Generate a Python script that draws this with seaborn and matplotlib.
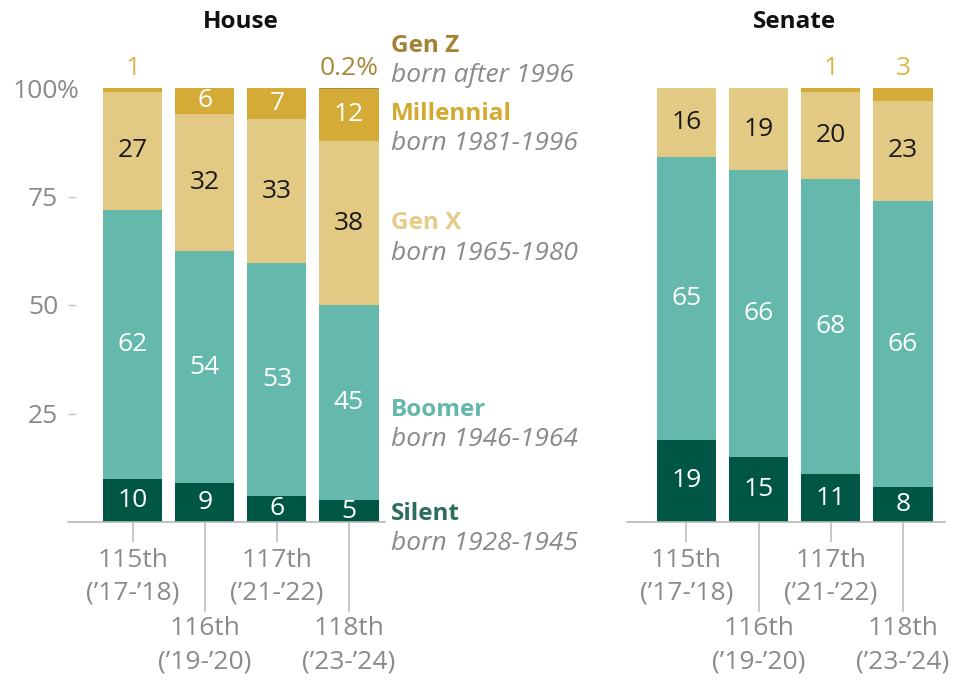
import numpy as np
import pandas as pd
import matplotlib
matplotlib.use("Agg")
import matplotlib.pyplot as plt
import seaborn as sns

# Data: share of each chamber by generation (%)
congress = ["115th\n(\u201917-\u201918)", "116th\n(\u201919-\u201920)",
            "117th\n(\u201921-\u201922)", "118th\n(\u201923-\u201924)"]
generations = ["Silent", "Boomer", "Gen X", "Millennial", "Gen Z"]
birth_years = ["born 1928-1945", "born 1946-1964", "born 1965-1980",
               "born 1981-1996", "born after 1996"]

house_silent = [10, 9, 6, 5]
house_boomer = [62, 54, 53, 45]
house_genx = [27, 32, 33, 38]
house_millennial = [1, 6, 7, 12]
house_genz = [0, 0, 0, 0.2]

senate_silent = [19, 15, 11, 8]
senate_boomer = [65, 66, 68, 66]
senate_genx = [16, 19, 20, 23]
senate_millennial = [0, 0, 1, 3]
senate_genz = [0, 0, 0, 0]

colors = {"Silent": "#005645", "Boomer": "#64b9ac", "Gen X": "#e3ca84",
          "Millennial": "#d5ab37", "Gen Z": "#a8873a"}
legend_colors = {"Silent": "#2e6e5f", "Boomer": "#62b8a9", "Gen X": "#e5cc87",
                 "Millennial": "#d4a930", "Gen Z": "#a38234"}
text_colors = {"Silent": "white", "Boomer": "white", "Gen X": "#1a1a1a",
               "Millennial": "white", "Gen Z": "white"}

sns.set_theme(style="white")
plt.rcParams['font.family'] = ['Open Sans', 'DejaVu Sans']

GRAY_TXT = "#8a8a8a"
GRAY_LINE = "#b8b8b8"
FS = 19

fig = plt.figure(figsize=(9.56, 6.82), dpi=100)
W, H = 956, 682
bottom = 1 - 522 / H
height = 434 / H
ax_house = fig.add_axes([68 / W, bottom, 317 / W, height])
ax_senate = fig.add_axes([627 / W, bottom, 318 / W, height])


def draw_chamber(ax, data, title, xlim):
    df = pd.DataFrame(data, index=congress)[generations]
    norm = df.div(df.sum(axis=1), axis=0) * 100
    cum = norm.cumsum(axis=1)
    # stack by overplotting cumulative totals, tallest first
    for gen in reversed(generations):
        sns.barplot(x=congress, y=cum[gen].values, color=colors[gen],
                    width=0.82, saturation=1, linewidth=0, ax=ax)

    for i in range(len(congress)):
        for gen in generations:
            v = df.iloc[i][gen]
            if v == 0:
                continue
            lbl = f"{v:g}%" if v < 1 else f"{v:g}"
            if v <= 3:
                ax.text(i, 101.5, lbl, ha="center", va="bottom", fontsize=FS,
                        color=colors[gen] if gen == "Gen Z" else "#dcb54a",
                        clip_on=False)
            else:
                mid = cum.iloc[i][gen] - norm.iloc[i][gen] / 2
                ax.text(i, mid, lbl, ha="center", va="center", fontsize=FS,
                        color=text_colors[gen])

    ax.set_xlim(*xlim)
    ax.set_ylim(0, 100)
    ax.set_xlabel("")
    ax.set_ylabel("")
    for s in ["top", "right", "left"]:
        ax.spines[s].set_visible(False)
    ax.spines["bottom"].set_color(GRAY_LINE)
    ax.spines["bottom"].set_linewidth(1.2)

    # alternate labels: even positions short ticks, odd ones long ticks
    pos = list(range(len(congress)))
    ax.set_xticks(pos[0::2], congress[0::2])
    ax.set_xticks(pos[1::2], congress[1::2], minor=True)
    ax.tick_params(axis="x", which="major", bottom=True, direction="out", length=14.4,
                   width=1.1, color=GRAY_LINE, pad=4, labelsize=FS, labelcolor=GRAY_TXT)
    ax.tick_params(axis="x", which="minor", bottom=True, direction="out", length=65,
                   width=1.1, color=GRAY_LINE, pad=3, labelsize=FS, labelcolor=GRAY_TXT)
    for t in ax.get_xticklabels(which="both"):
        t.set_linespacing(1.4)

    ax.text(1.5, 1.152, title, transform=ax.get_xaxis_transform(), ha="center",
            va="center", fontsize=17.5, fontweight="bold", color="#111111")


draw_chamber(ax_house, {"Silent": house_silent, "Boomer": house_boomer,
                        "Gen X": house_genx, "Millennial": house_millennial,
                        "Gen Z": house_genz}, "House", (-0.9, 3.5))
draw_chamber(ax_senate, {"Silent": senate_silent, "Boomer": senate_boomer,
                         "Gen X": senate_genx, "Millennial": senate_millennial,
                         "Gen Z": senate_genz}, "Senate", (-0.82, 3.58))

# y axis on the House panel only
ax_house.set_yticks([25, 50, 75, 100], ["25", "50", "75", "100"])
ax_house.tick_params(axis="y", left=True, direction="in", length=5.8, width=1,
                     color="#c4c4c4", pad=7, labelsize=FS, labelcolor=GRAY_TXT)
ax_house.yaxis.get_major_ticks()[-1].tick1line.set_visible(False)
ax_house.annotate("%", xy=(0, 100), xycoords=("axes fraction", "data"),
                  xytext=(-8, 0), textcoords="offset points", ha="left",
                  va="center_baseline", fontsize=FS, color=GRAY_TXT)
ax_senate.tick_params(axis="y", left=False, labelleft=False)

# legend labels at the right of the House panel
legend_y = {"Gen Z": 46, "Millennial": 114, "Gen X": 223, "Boomer": 410, "Silent": 514}
for gen, born in zip(generations, birth_years):
    y = legend_y[gen]
    fig.text(391 / W, 1 - y / H, gen, ha="left", va="center", fontsize=17.5,
             fontweight="bold", color=legend_colors[gen])
    fig.text(391 / W, 1 - (y + 30) / H, born, ha="left", va="center", fontsize=19,
             fontstyle="italic", color=GRAY_TXT)

fig.savefig("out.png", dpi=100)
